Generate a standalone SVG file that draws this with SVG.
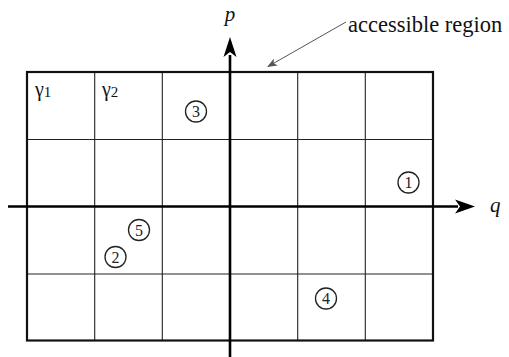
<svg xmlns="http://www.w3.org/2000/svg" width="509" height="357" viewBox="0 0 509 357">
<style>
.grid{stroke:#222;stroke-width:1.1;fill:none}
.outer{stroke:#111;stroke-width:2.2;fill:none}
.axis{stroke:#000;stroke-width:2.6;fill:none}
.t{fill:#111}
.num circle{fill:none;stroke:#222;stroke-width:1.3}
.num text{font-size:16px;fill:#222;text-anchor:middle}
</style>
<defs>
<marker id="ah" markerWidth="10" markerHeight="8" refX="9" refY="4" orient="auto" markerUnits="userSpaceOnUse">
<path d="M0,0 L10,4 L0,8 L2.5,4 Z" fill="#555"/>
</marker>
</defs>
<rect width="509" height="357" fill="#fff"/>
<g id="grid">
<line class="grid" x1="94.7" y1="72" x2="94.7" y2="340.5"/>
<line class="grid" x1="162.3" y1="72" x2="162.3" y2="340.5"/>
<line class="grid" x1="297.7" y1="72" x2="297.7" y2="340.5"/>
<line class="grid" x1="365.3" y1="72" x2="365.3" y2="340.5"/>
<line class="grid" x1="27" y1="139.5" x2="433" y2="139.5"/>
<line class="grid" x1="27" y1="274" x2="433" y2="274"/>
<rect class="outer" x="27" y="72" width="406" height="268.5"/>
</g>
<g id="connectors">
<line class="axis" x1="8" y1="206.5" x2="458" y2="206.5"/>
<path d="M475,206.5 L455,199.5 L460,206.5 L455,213.5 Z" fill="#000"/>
<line class="axis" x1="230" y1="357" x2="230" y2="55"/>
<path d="M230,37 L223.5,57 L230,52 L236.5,57 Z" fill="#000"/>
<line x1="346" y1="22" x2="268" y2="66.5" stroke="#555" stroke-width="1" marker-end="url(#ah)"/>
</g>
<g id="labels" font-family="'Liberation Serif', 'Times New Roman', serif">
<text class="t" x="230" y="21" font-size="21" font-style="italic" text-anchor="middle">p</text>
<text class="t" x="490" y="212" font-size="21" font-style="italic">q</text>
<text class="t" x="348" y="32" font-size="22.5">accessible region</text>
<text class="t" x="35" y="96" font-size="20">γ<tspan font-size="15" dy="1">1</tspan></text>
<text class="t" x="102" y="96" font-size="20">γ<tspan font-size="15" dy="1">2</tspan></text>
</g>
<g font-family="'Liberation Serif', 'Times New Roman', serif">
<g id="n1" class="num"><circle cx="408.5" cy="182.5" r="10.5"/><text x="408.5" y="188">1</text></g>
<g id="n2" class="num"><circle cx="115.5" cy="257" r="10.5"/><text x="115.5" y="262.5">2</text></g>
<g id="n3" class="num"><circle cx="196" cy="111.5" r="10.5"/><text x="196" y="117">3</text></g>
<g id="n4" class="num"><circle cx="326" cy="298.5" r="10.5"/><text x="326" y="304">4</text></g>
<g id="n5" class="num"><circle cx="139" cy="230" r="10.5"/><text x="139" y="235.5">5</text></g>
</g>
</svg>
